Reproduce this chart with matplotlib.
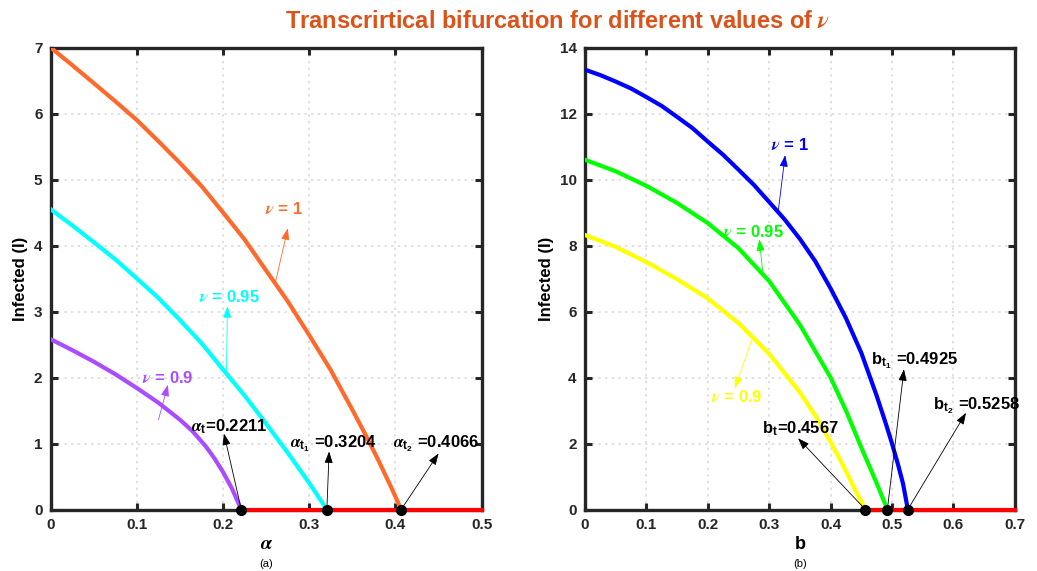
import matplotlib
matplotlib.use("Agg")
import matplotlib.pyplot as plt

# ── Fonts: bold sans for text, Times-like italic for greek symbols ──
plt.rcParams["font.family"] = ["Liberation Sans", "DejaVu Sans"]
plt.rcParams["font.weight"] = "bold"
plt.rcParams["mathtext.fontset"] = "custom"
plt.rcParams["mathtext.it"] = "STIXGeneral:italic"
plt.rcParams["mathtext.rm"] = "Liberation Sans:bold"
plt.rcParams["mathtext.bf"] = "Liberation Sans:bold"

# ── (a) infected vs alpha ─────────────────────────────
alpha_nu1 = [0, 0.025, 0.05, 0.075, 0.1, 0.125, 0.15, 0.175, 0.2, 0.225, 0.25,
             0.275, 0.3, 0.325, 0.35, 0.365, 0.38, 0.395, 0.4066]
I_alpha_nu1 = [7.0, 6.733, 6.46, 6.185, 5.9, 5.58, 5.25, 4.9, 4.5, 4.09, 3.62,
               3.155, 2.64, 2.11, 1.51, 1.138, 0.75, 0.337, 0]

alpha_nu095 = [0, 0.025, 0.05, 0.075, 0.1, 0.125, 0.15, 0.175, 0.2, 0.225, 0.25,
               0.275, 0.3, 0.3204]
I_alpha_nu095 = [4.55, 4.305, 4.05, 3.79, 3.5, 3.205, 2.87, 2.52, 2.12, 1.725, 1.3,
                 0.86, 0.4, 0]

alpha_nu09 = [0, 0.025, 0.05, 0.075, 0.1, 0.125, 0.15, 0.165, 0.18, 0.19, 0.2,
              0.21, 0.2211]
I_alpha_nu09 = [2.58, 2.415, 2.24, 2.05, 1.84, 1.6175, 1.36, 1.18, 0.955, 0.775,
                0.565, 0.325, 0]

alpha_thresholds = [0.2211, 0.3204, 0.4066]
alpha_ticks = [0, 0.1, 0.2, 0.3, 0.4, 0.5]
alpha_yticks = [0, 1, 2, 3, 4, 5, 6, 7]

# ── (b) infected vs b ─────────────────────────────────
b_nu1 = [0, 0.025, 0.05, 0.075, 0.1, 0.125, 0.15, 0.175, 0.2, 0.225, 0.25, 0.275,
         0.3, 0.325, 0.35, 0.375, 0.4, 0.425, 0.45, 0.475, 0.49, 0.5, 0.51, 0.518,
         0.5258]
I_b_nu1 = [13.33, 13.165, 12.97, 12.76, 12.5, 12.23, 11.9, 11.56, 11.15, 10.75,
           10.3, 9.84, 9.32, 8.795, 8.2, 7.525, 6.7, 5.8, 4.75, 3.45, 2.6, 2.0,
           1.35, 0.78, 0]

b_nu095 = [0, 0.05, 0.1, 0.15, 0.2, 0.25, 0.3, 0.35, 0.4, 0.425, 0.45, 0.475,
           0.4925]
I_b_nu095 = [10.6, 10.25, 9.81, 9.29, 8.68, 7.92, 6.92, 5.6, 4.0, 3.0, 1.88, 0.8, 0]

b_nu09 = [0, 0.05, 0.1, 0.15, 0.2, 0.25, 0.3, 0.35, 0.375, 0.4, 0.42, 0.44, 0.4567]
I_b_nu09 = [8.32, 7.96, 7.5, 6.98, 6.4, 5.65, 4.72, 3.55, 2.85, 2.05, 1.35, 0.6, 0]

b_thresholds = [0.4567, 0.4925, 0.5258]
b_ticks = [0, 0.1, 0.2, 0.3, 0.4, 0.5, 0.6, 0.7]
b_yticks = [0, 2, 4, 6, 8, 10, 12, 14]

AXIS_COLOR = "#262626"
ORANGE = "#FF6A2C"
PURPLE = "#AA4CFF"


def style_axes(ax, xticks, yticks):
    ax.set_xlim(xticks[0], xticks[-1])
    ax.set_ylim(yticks[0], yticks[-1])
    ax.set_xticks(xticks)
    ax.set_yticks(yticks)
    ax.set_xticklabels([f"{t:g}" for t in xticks], fontsize=11, fontweight="bold")
    ax.set_yticklabels([f"{t:g}" for t in yticks], fontsize=11, fontweight="bold")
    ax.tick_params(direction="in", length=5, width=2.2, color=AXIS_COLOR,
                   top=True, right=True, labelcolor=AXIS_COLOR, pad=6)
    for sp in ax.spines.values():
        sp.set_linewidth(2.4)
        sp.set_color(AXIS_COLOR)
    ax.grid(True, linestyle=(0, (1.5, 2.5)), color="#dcdcdc", linewidth=1.2)
    ax.set_axisbelow(True)
    ax.set_ylabel("Infected (I)", fontsize=12, fontweight="bold", labelpad=4)


def arrow(ax, tail, head, color):
    ax.annotate("", xy=head, xytext=tail,
                arrowprops=dict(arrowstyle="-|>,head_length=0.7,head_width=0.25",
                                color=color, lw=0.6, shrinkA=0, shrinkB=0,
                                mutation_scale=10))


fig = plt.figure(figsize=(10.37, 5.71), dpi=100)
ax1 = fig.add_axes([0.0489, 0.1077, 0.4156, 0.809])
ax2 = fig.add_axes([0.5641, 0.1077, 0.4145, 0.809])

lw = 3.0

# ── panel (a) ─────────────────────────────────────────
style_axes(ax1, alpha_ticks, alpha_yticks)
ax1.plot(alpha_nu1, I_alpha_nu1, color=ORANGE, lw=lw, zorder=3)
ax1.plot(alpha_nu095, I_alpha_nu095, color="#00FFFF", lw=lw, zorder=3)
ax1.plot(alpha_nu09, I_alpha_nu09, color=PURPLE, lw=lw, zorder=3)
ax1.plot([alpha_thresholds[0], alpha_ticks[-1]], [0, 0], color="red", lw=lw,
         zorder=4, clip_on=False)
ax1.plot(alpha_thresholds, [0] * 3, "o", color="black", ms=7, zorder=5, clip_on=False)

arrow(ax1, (0.261, 3.46), (0.275, 4.26), ORANGE)
ax1.text(0.2706, 4.55, r"$\nu$ = 1", color=ORANGE, fontsize=12, ha="center", va="center")
arrow(ax1, (0.204, 2.11), (0.205, 3.08), "#00FFFF")
ax1.text(0.207, 3.22, r"$\nu$ = 0.95", color="#00FFFF", fontsize=12, ha="center", va="center")
arrow(ax1, (0.125, 1.36), (0.136, 1.89), PURPLE)
ax1.text(0.136, 2.0, r"$\nu$ = 0.9", color=PURPLE, fontsize=12, ha="center", va="center")

arrow(ax1, (alpha_thresholds[0], 0), (0.201, 1.15), "black")
ax1.text(0.163, 1.25, r"$\alpha_{\mathbf{t}}$=0.2211", fontsize=12, va="center")
arrow(ax1, (alpha_thresholds[1], 0), (0.323, 0.88), "black")
ax1.text(0.278, 1.0, r"$\alpha_{\mathbf{t}_{\mathbf{1}}}$ =0.3204", fontsize=12, va="center")
arrow(ax1, (alpha_thresholds[2], 0), (0.45, 0.85), "black")
ax1.text(0.397, 1.0, r"$\alpha_{\mathbf{t}_{\mathbf{2}}}$ =0.4066", fontsize=12, va="center")

ax1.set_xlabel(r"$\alpha$", fontsize=14, labelpad=3)

# ── panel (b) ─────────────────────────────────────────
style_axes(ax2, b_ticks, b_yticks)
ax2.plot(b_nu1, I_b_nu1, color="#0000FF", lw=lw, zorder=3)
ax2.plot(b_nu095, I_b_nu095, color="#00FF00", lw=lw, zorder=3)
ax2.plot(b_nu09, I_b_nu09, color="#FFFF00", lw=lw, zorder=3)
ax2.plot([b_thresholds[0], b_ticks[-1]], [0, 0], color="red", lw=lw,
         zorder=4, clip_on=False)
ax2.plot(b_thresholds, [0] * 3, "o", color="black", ms=7, zorder=5, clip_on=False)

arrow(ax2, (0.315, 9.08), (0.326, 10.74), "#0000FF")
ax2.text(0.333, 11.05, r"$\nu$ = 1", color="#0000FF", fontsize=12, ha="center", va="center")
arrow(ax2, (0.290, 7.1), (0.284, 8.19), "#00FF00")
ax2.text(0.275, 8.42, r"$\nu$ = 0.95", color="#00FF00", fontsize=12, ha="center", va="center")
arrow(ax2, (0.2715, 5.14), (0.244, 3.67), "#FFFF00")
ax2.text(0.248, 3.42, r"$\nu$ = 0.9", color="#FFFF00", fontsize=12, ha="center", va="center")

arrow(ax2, (b_thresholds[0], 0), (0.347, 2.16), "black")
ax2.text(0.288, 2.45, r"b$_{\mathbf{t}}$=0.4567", fontsize=12, va="center")
arrow(ax2, (b_thresholds[1], 0), (0.5195, 4.25), "black")
ax2.text(0.466, 4.5, r"b$_{\mathbf{t}_{\mathbf{1}}}$ =0.4925", fontsize=12, va="center")
arrow(ax2, (b_thresholds[2], 0), (0.6205, 2.93), "black")
ax2.text(0.566, 3.15, r"b$_{\mathbf{t}_{\mathbf{2}}}$ =0.5258", fontsize=12, va="center")

ax2.set_xlabel("b", fontsize=13, fontweight="bold", labelpad=3)

# panel tags under the axis labels
for ax, tag in ((ax1, "(a)"), (ax2, "(b)")):
    pos = ax.get_position()
    fig.text(pos.x0 + pos.width / 2, 0.012, tag, fontsize=8, fontweight="normal",
             ha="center", va="center")

fig.text(0.538, 0.962, r"Transcrirtical bifurcation for different values of $\nu$",
         color="#D9531A", fontsize=17, fontweight="bold", ha="center", va="center")

fig.savefig("out.png", dpi=100)
